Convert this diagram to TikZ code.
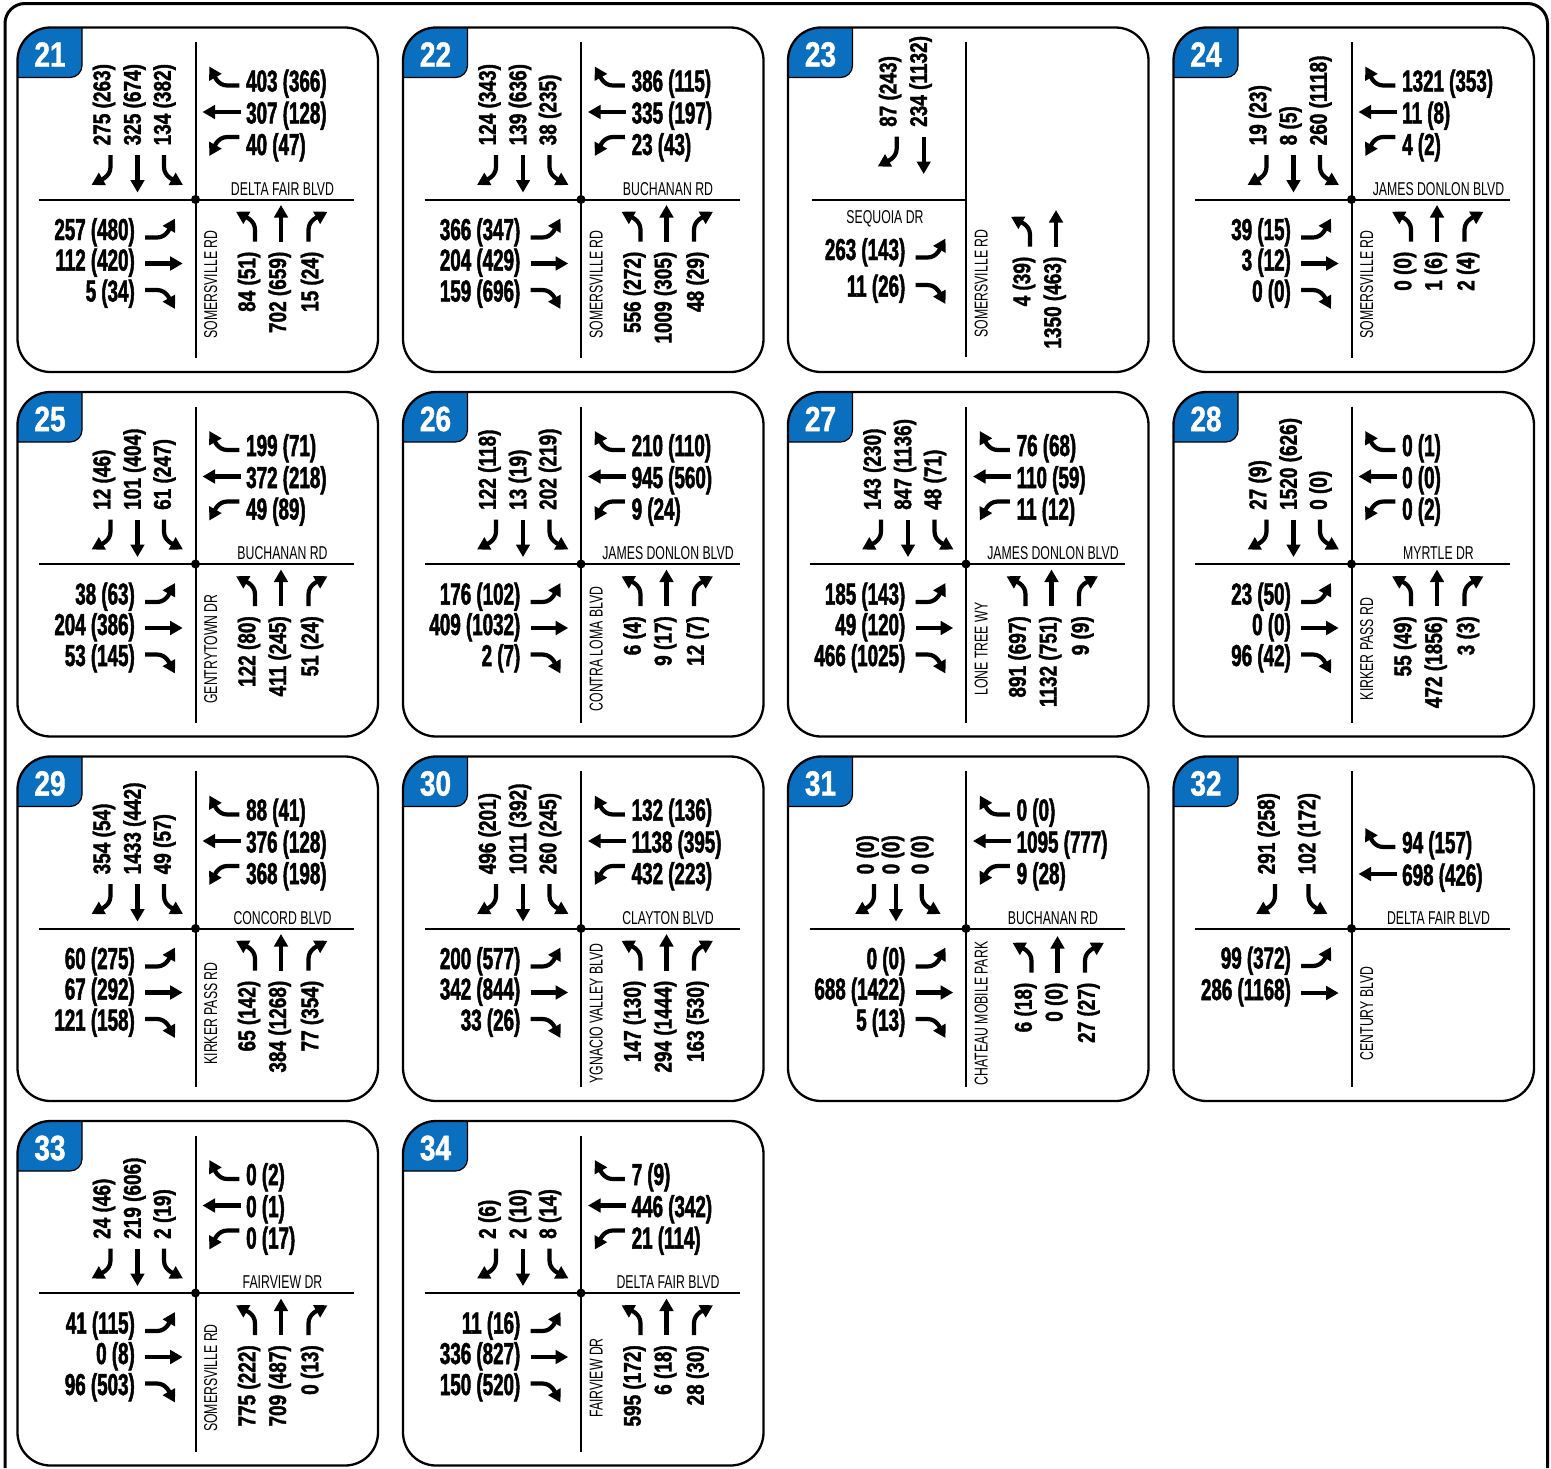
\documentclass[tikz,border=0pt]{standalone}
\usepackage{fontspec}
\setmainfont{Liberation Sans}
\newfontfamily\hnumfont[FakeStretch=0.62,FakeBold=1.6]{Liberation Sans}
\newfontfamily\vnumfont[FakeStretch=0.785,FakeBold=1.6]{Liberation Sans}
\newfontfamily\roadfont[FakeStretch=0.66]{Liberation Sans}
\newfontfamily\tagfont[FakeStretch=0.8,FakeBold=1.2]{Liberation Sans}
\usetikzlibrary{arrows.meta}
\definecolor{TagBlue}{HTML}{0A6FBE}
\tikzset{
  frame/.style={line width=3pt,rounded corners=20pt},
  panelbox/.style={draw=black,line width=2.3pt,rounded corners=33pt},
  tag/.style={fill=TagBlue,draw=black,line width=1.2pt,rounded corners=12pt},
  tagnum/.style={font=\tagfont\bfseries\fontsize{35}{35}\selectfont,text=white,inner sep=0pt},
  street/.style={line width=2pt},
  hnum/.style={font=\hnumfont\bfseries\fontsize{30.3}{30}\selectfont,inner sep=0pt},
  vnum/.style={font=\vnumfont\bfseries\fontsize{24.2}{24}\selectfont,inner sep=0pt,rotate=90},
  road/.style={font=\roadfont\fontsize{18.6}{19}\selectfont,inner sep=0pt},
  mv/.style={line width=4.2pt,-{Triangle[length=12.5pt,width=13.5pt]}}
}
% box, blue tag and number of one intersection
\newcommand{\panelframe}[1]{%
  \begin{scope}
    \clip[rounded corners=33pt] (0,0) rectangle (360.5,344.5);
    \path[tag] (-20,-20) rectangle (64.5,50);
  \end{scope}
  \node[tagnum] (p#1tag) at (32.5,27) {#1};
  \draw[panelbox] (0,0) rectangle (360.5,344.5);}
% four-leg crossing with street names
\newcommand{\xroads}[2]{%
  \draw[street] (21.5,172) -- (336.5,172);
  \draw[street] (178,14.5) -- (178,330.5);
  \fill (178,172) circle[radius=4.5];
  \node[road,anchor=base] (p\pid ew) at (265,167.5) {#1};
  \node[road,rotate=90,anchor=base] (p\pid ns) at (199.5,257) {#2};}
% movements: name, position, turn (-1/0/1), volumes
\newcommand{\sbmv}[4]{%
  \ifnum#3=0 \draw[mv] (#2,127.5) -- ++(0,37.5);
  \else \draw[mv] (#2,127.5) -- ++(0,12) .. controls +(0,10) and +({-8*#3},-4.5) .. ++({19*#3},18);\fi
  \node[vnum,anchor=west] (p\pid sb#1) at ({#2-3+3.5*#3},118) {#4};}
\newcommand{\wbmv}[4]{%
  \ifnum#3=0 \draw[mv] (223,#2-11.5) -- ++(-38,0);
  \else \draw[mv] (221.8,{#2-12-6*#3}) -- ++(-12,0) .. controls +(-10,0) and +(4.5,{-8*#3}) .. ++(-18,{19*#3});\fi
  \node[hnum,anchor=base west] (p\pid wb#1) at (228.5,#2) {#4};}
\newcommand{\ebmv}[4]{%
  \ifnum#3=0 \draw[mv] (127.5,#2-7) -- ++(37.7,0);
  \else \draw[mv] (127.5,{#2-7-4.5*#3}) -- ++(12,0) .. controls +(10,0) and +(-4.5,{-8*#3}) .. ++(18,{19*#3});\fi
  \node[hnum,anchor=base east] (p\pid eb#1) at (117.5,#2) {#4};}
\newcommand{\nbmv}[4]{%
  \ifnum#3=0 \draw[mv] (#2,214.2) -- ++(0,-36.7);
  \else \draw[mv] (#2,214.2) -- ++(0,-12) .. controls +(0,-10) and +({-8*#3},4.5) .. ++({19*#3},-18);\fi
  \node[vnum,anchor=east] (p\pid nb#1) at ({#2+4.75*#3-1.25},224) {#4};}

\begin{document}
\begin{tikzpicture}[x=1pt,y=-1pt]
  \useasboundingbox (0,0) rectangle (1551,1468);
  \draw[frame] (5,1468) -- (5,3.5) -- (1547.5,3.5) -- (1547.5,1468);

  % 21
  \begin{scope}[shift={(17.5,27.5)}]\def\pid{21}
    \panelframe{21}
    \xroads{DELTA FAIR BLVD}{SOMERSVILLE RD}
    \sbmv{r}{93}{-1}{275 (263)} \sbmv{t}{120}{0}{325 (674)} \sbmv{l}{146.5}{1}{134 (382)}
    \wbmv{r}{64}{-1}{403 (366)} \wbmv{t}{96}{0}{307 (128)} \wbmv{l}{127.5}{1}{40 (47)}
    \ebmv{l}{212.5}{-1}{257 (480)} \ebmv{t}{243}{0}{112 (420)} \ebmv{r}{274}{1}{5 (34)}
    \nbmv{l}{237.5}{-1}{84 (51)} \nbmv{t}{263.5}{0}{702 (659)} \nbmv{r}{291}{1}{15 (24)}
  \end{scope}
  % 22
  \begin{scope}[shift={(403,27.5)}]\def\pid{22}
    \panelframe{22}
    \xroads{BUCHANAN RD}{SOMERSVILLE RD}
    \sbmv{r}{93}{-1}{124 (343)} \sbmv{t}{120}{0}{139 (636)} \sbmv{l}{146.5}{1}{38 (235)}
    \wbmv{r}{64}{-1}{386 (115)} \wbmv{t}{96}{0}{335 (197)} \wbmv{l}{127.5}{1}{23 (43)}
    \ebmv{l}{212.5}{-1}{366 (347)} \ebmv{t}{243}{0}{204 (429)} \ebmv{r}{274}{1}{159 (696)}
    \nbmv{l}{237.5}{-1}{556 (272)} \nbmv{t}{263.5}{0}{1009 (305)} \nbmv{r}{291}{1}{48 (29)}
  \end{scope}
  % 23
  \begin{scope}[shift={(788,27.5)}]\def\pid{23}
    \panelframe{23}
    \draw[street] (23.7,172) -- (178,172);
    \draw[street] (178,14) -- (178,329);
    \node[road,anchor=base] (p23ew) at (97,195.5) {SEQUOIA DR};
    \node[road,rotate=90,anchor=base] (p23ns) at (199.5,256) {SOMERSVILLE RD};
    \begin{scope}[shift={(15.7,-18.5)}]
      \sbmv{r}{93}{-1}{87 (243)} \sbmv{t}{120}{0}{234 (1132)}
    \end{scope}
    \ebmv{l}{232.5}{-1}{263 (143)} \ebmv{r}{269}{1}{11 (26)}
    \begin{scope}[shift={(4.5,5)}]
      \nbmv{l}{237.5}{-1}{4 (39)} \nbmv{t}{263.5}{0}{1350 (463)}
    \end{scope}
  \end{scope}
  % 24
  \begin{scope}[shift={(1173.5,27.5)}]\def\pid{24}
    \panelframe{24}
    \xroads{JAMES DONLON BLVD}{SOMERSVILLE RD}
    \sbmv{r}{93}{-1}{19 (23)} \sbmv{t}{120}{0}{8 (5)} \sbmv{l}{146.5}{1}{260 (1118)}
    \wbmv{r}{64}{-1}{1321 (353)} \wbmv{t}{96}{0}{11 (8)} \wbmv{l}{127.5}{1}{4 (2)}
    \ebmv{l}{212.5}{-1}{39 (15)} \ebmv{t}{243}{0}{3 (12)} \ebmv{r}{274}{1}{0 (0)}
    \nbmv{l}{237.5}{-1}{0 (0)} \nbmv{t}{263.5}{0}{1 (6)} \nbmv{r}{291}{1}{2 (4)}
  \end{scope}
  % 25
  \begin{scope}[shift={(17.5,392)}]\def\pid{25}
    \panelframe{25}
    \xroads{BUCHANAN RD}{GENTRYTOWN DR}
    \sbmv{r}{93}{-1}{12 (46)} \sbmv{t}{120}{0}{101 (404)} \sbmv{l}{146.5}{1}{61 (247)}
    \wbmv{r}{64}{-1}{199 (71)} \wbmv{t}{96}{0}{372 (218)} \wbmv{l}{127.5}{1}{49 (89)}
    \ebmv{l}{212.5}{-1}{38 (63)} \ebmv{t}{243}{0}{204 (386)} \ebmv{r}{274}{1}{53 (145)}
    \nbmv{l}{237.5}{-1}{122 (80)} \nbmv{t}{263.5}{0}{411 (245)} \nbmv{r}{291}{1}{51 (24)}
  \end{scope}
  % 26
  \begin{scope}[shift={(403,392)}]\def\pid{26}
    \panelframe{26}
    \xroads{JAMES DONLON BLVD}{CONTRA LOMA BLVD}
    \sbmv{r}{93}{-1}{122 (118)} \sbmv{t}{120}{0}{13 (19)} \sbmv{l}{146.5}{1}{202 (219)}
    \wbmv{r}{64}{-1}{210 (110)} \wbmv{t}{96}{0}{945 (560)} \wbmv{l}{127.5}{1}{9 (24)}
    \ebmv{l}{212.5}{-1}{176 (102)} \ebmv{t}{243}{0}{409 (1032)} \ebmv{r}{274}{1}{2 (7)}
    \nbmv{l}{237.5}{-1}{6 (4)} \nbmv{t}{263.5}{0}{9 (17)} \nbmv{r}{291}{1}{12 (7)}
  \end{scope}
  % 27
  \begin{scope}[shift={(788,392)}]\def\pid{27}
    \panelframe{27}
    \xroads{JAMES DONLON BLVD}{LONE TREE WY}
    \sbmv{r}{93}{-1}{143 (230)} \sbmv{t}{120}{0}{847 (1136)} \sbmv{l}{146.5}{1}{48 (71)}
    \wbmv{r}{64}{-1}{76 (68)} \wbmv{t}{96}{0}{110 (59)} \wbmv{l}{127.5}{1}{11 (12)}
    \ebmv{l}{212.5}{-1}{185 (143)} \ebmv{t}{243}{0}{49 (120)} \ebmv{r}{274}{1}{466 (1025)}
    \nbmv{l}{237.5}{-1}{891 (697)} \nbmv{t}{263.5}{0}{1132 (751)} \nbmv{r}{291}{1}{9 (9)}
  \end{scope}
  % 28
  \begin{scope}[shift={(1173.5,392)}]\def\pid{28}
    \panelframe{28}
    \xroads{MYRTLE DR}{KIRKER PASS RD}
    \sbmv{r}{93}{-1}{27 (9)} \sbmv{t}{120}{0}{1520 (626)} \sbmv{l}{146.5}{1}{0 (0)}
    \wbmv{r}{64}{-1}{0 (1)} \wbmv{t}{96}{0}{0 (0)} \wbmv{l}{127.5}{1}{0 (2)}
    \ebmv{l}{212.5}{-1}{23 (50)} \ebmv{t}{243}{0}{0 (0)} \ebmv{r}{274}{1}{96 (42)}
    \nbmv{l}{237.5}{-1}{55 (49)} \nbmv{t}{263.5}{0}{472 (1856)} \nbmv{r}{291}{1}{3 (3)}
  \end{scope}
  % 29
  \begin{scope}[shift={(17.5,756.5)}]\def\pid{29}
    \panelframe{29}
    \xroads{CONCORD BLVD}{KIRKER PASS RD}
    \sbmv{r}{93}{-1}{354 (54)} \sbmv{t}{120}{0}{1433 (442)} \sbmv{l}{146.5}{1}{49 (57)}
    \wbmv{r}{64}{-1}{88 (41)} \wbmv{t}{96}{0}{376 (128)} \wbmv{l}{127.5}{1}{368 (198)}
    \ebmv{l}{212.5}{-1}{60 (275)} \ebmv{t}{243}{0}{67 (292)} \ebmv{r}{274}{1}{121 (158)}
    \nbmv{l}{237.5}{-1}{65 (142)} \nbmv{t}{263.5}{0}{384 (1268)} \nbmv{r}{291}{1}{77 (354)}
  \end{scope}
  % 30
  \begin{scope}[shift={(403,756.5)}]\def\pid{30}
    \panelframe{30}
    \xroads{CLAYTON BLVD}{YGNACIO VALLEY BLVD}
    \sbmv{r}{93}{-1}{496 (201)} \sbmv{t}{120}{0}{1011 (392)} \sbmv{l}{146.5}{1}{260 (245)}
    \wbmv{r}{64}{-1}{132 (136)} \wbmv{t}{96}{0}{1138 (395)} \wbmv{l}{127.5}{1}{432 (223)}
    \ebmv{l}{212.5}{-1}{200 (577)} \ebmv{t}{243}{0}{342 (844)} \ebmv{r}{274}{1}{33 (26)}
    \nbmv{l}{237.5}{-1}{147 (130)} \nbmv{t}{263.5}{0}{294 (1444)} \nbmv{r}{291}{1}{163 (530)}
  \end{scope}
  % 31
  \begin{scope}[shift={(788,756.5)}]\def\pid{31}
    \panelframe{31}
    \xroads{BUCHANAN RD}{CHATEAU MOBILE PARK}
    \sbmv{r}{86}{-1}{0 (0)} \sbmv{t}{108}{0}{0 (0)} \sbmv{l}{133.7}{1}{0 (0)}
    \wbmv{r}{64}{-1}{0 (0)} \wbmv{t}{96}{0}{1095 (777)} \wbmv{l}{127.5}{1}{9 (28)}
    \ebmv{l}{212.5}{-1}{0 (0)} \ebmv{t}{243}{0}{688 (1422)} \ebmv{r}{274}{1}{5 (13)}
    \begin{scope}[shift={(6,2)}]
      \nbmv{l}{237.5}{-1}{6 (18)} \nbmv{t}{263.5}{0}{0 (0)} \nbmv{r}{291}{1}{27 (27)}
    \end{scope}
  \end{scope}
  % 32
  \begin{scope}[shift={(1173.5,756.5)}]\def\pid{32}
    \panelframe{32}
    \xroads{DELTA FAIR BLVD}{CENTURY BLVD}
    \sbmv{r}{101.5}{-1}{291 (258)} \sbmv{l}{135}{1}{102 (172)}
    \wbmv{r}{96.5}{-1}{94 (157)} \wbmv{t}{129}{0}{698 (426)}
    \ebmv{l}{212}{-1}{99 (372)} \ebmv{t}{243.5}{0}{286 (1168)}
  \end{scope}
  % 33
  \begin{scope}[shift={(17.5,1121)}]\def\pid{33}
    \panelframe{33}
    \xroads{FAIRVIEW DR}{SOMERSVILLE RD}
    \sbmv{r}{93}{-1}{24 (46)} \sbmv{t}{120}{0}{219 (606)} \sbmv{l}{146.5}{1}{2 (19)}
    \wbmv{r}{64}{-1}{0 (2)} \wbmv{t}{96}{0}{0 (1)} \wbmv{l}{127.5}{1}{0 (17)}
    \ebmv{l}{212.5}{-1}{41 (115)} \ebmv{t}{243}{0}{0 (8)} \ebmv{r}{274}{1}{96 (503)}
    \nbmv{l}{237.5}{-1}{775 (222)} \nbmv{t}{263.5}{0}{709 (487)} \nbmv{r}{291}{1}{0 (13)}
  \end{scope}
  % 34
  \begin{scope}[shift={(403,1121)}]\def\pid{34}
    \panelframe{34}
    \xroads{DELTA FAIR BLVD}{FAIRVIEW DR}
    \sbmv{r}{93}{-1}{2 (6)} \sbmv{t}{120}{0}{2 (10)} \sbmv{l}{146.5}{1}{8 (14)}
    \wbmv{r}{64}{-1}{7 (9)} \wbmv{t}{96}{0}{446 (342)} \wbmv{l}{127.5}{1}{21 (114)}
    \ebmv{l}{212.5}{-1}{11 (16)} \ebmv{t}{243}{0}{336 (827)} \ebmv{r}{274}{1}{150 (520)}
    \nbmv{l}{237.5}{-1}{595 (172)} \nbmv{t}{263.5}{0}{6 (18)} \nbmv{r}{291}{1}{28 (30)}
  \end{scope}
\end{tikzpicture}
\end{document}
